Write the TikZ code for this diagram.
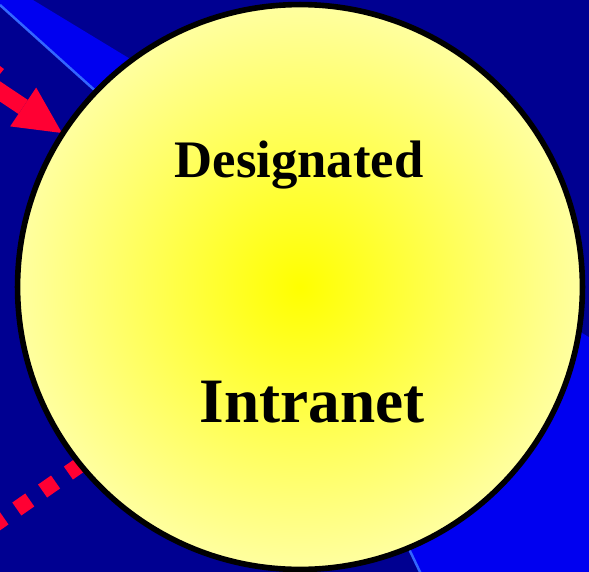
\documentclass[tikz,border=0pt]{standalone}
\usepackage{fontspec}
\setmainfont{Liberation Serif}
\usetikzlibrary{arrows.meta}
\definecolor{navy}{RGB}{0,0,145}
\definecolor{beam}{RGB}{0,0,240}
\definecolor{beamedge}{RGB}{51,102,255}
\definecolor{hotred}{RGB}{255,0,51}
\definecolor{paleyellow}{RGB}{255,255,160}

\begin{document}
\begin{tikzpicture}[x=0.02cm,y=-0.02cm,
  zone/.style={circle,draw=black,line width=3.2pt,minimum size=11.3cm,inner sep=0pt,inner color=yellow,outer color=paleyellow},
  label text/.style={anchor=base,text=black,inner sep=0pt}]

  \useasboundingbox (0,0) rectangle (589,572);
  \clip (0,0) rectangle (589,572);
  \fill[navy] (0,0) rectangle (589,572);
  \fill[beam] (0,0) -- (33,0) -- (620,356) -- (620,620) -- (441,616) -- (400,530) -- (110,104) -- (0,5) -- cycle;
  \draw[beamedge, line width=1.4pt] (0,5) -- (110,104);
  \draw[beamedge, line width=1.4pt] (400,530) -- (441,616);

  \coordinate (arrow start) at (-38,66);
  \coordinate (arrow tip) at (62,133);
  \coordinate (dots start) at (-9,527);
  \coordinate (dots end) at (100,451);

  \draw[hotred, line width=9.6pt, -{Triangle[length=26.6pt,width=26.6pt,line width=0pt]}] (arrow start) -- (arrow tip);
  \draw[hotred, line width=9pt, dash pattern=on 9pt off 8.9pt] (dots start) -- (dots end);
  \fill[hotred] (0,66) -- (4,69) -- (0,74) -- cycle;

  \node[zone] (intranet) at (300,287) {};
  \node[label text, font=\bfseries\fontsize{30}{36}\selectfont] (designated) at (299,177) {Designated};
  \node[label text, font=\bfseries\fontsize{36}{43}\selectfont] (intranet label) at (312,422) {Intranet};
\end{tikzpicture}
\end{document}
